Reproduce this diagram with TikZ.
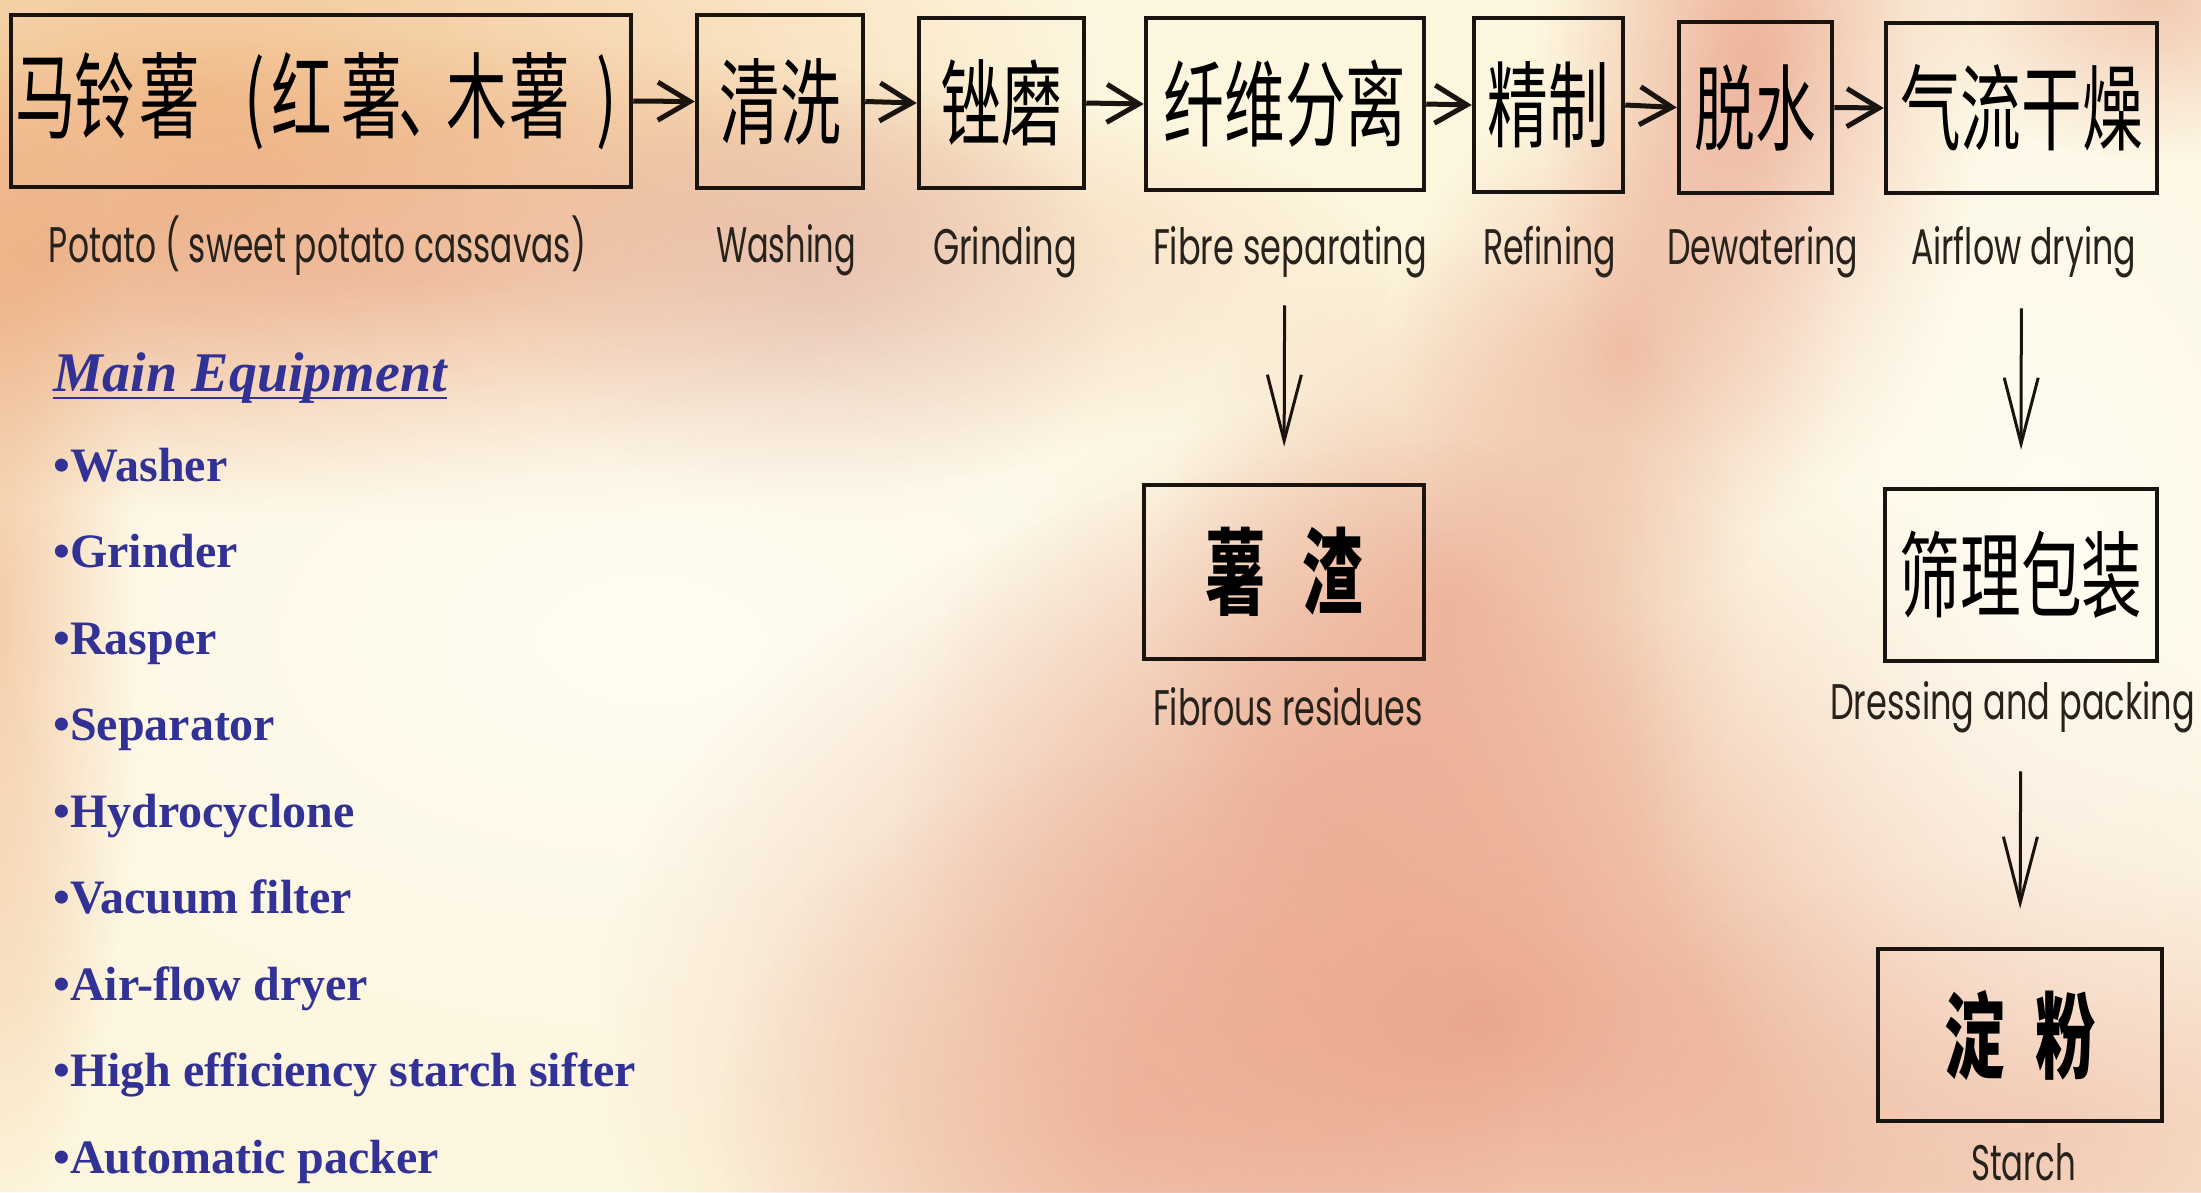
\documentclass[tikz,border=0pt]{standalone}
\usepackage{fontspec}
\setmainfont{Liberation Serif}
\newfontfamily\cjkf{Noto Sans CJK SC}
\newfontfamily\labf{Poppins}
\usetikzlibrary{arrows.meta,fadings}
\definecolor{bg}{RGB}{253,246,222}
\definecolor{peach}{RGB}{240,182,128}
\definecolor{orangeish}{RGB}{236,162,108}
\definecolor{redband}{RGB}{230,150,112}
\definecolor{mauve}{RGB}{212,160,150}
\definecolor{salmon}{RGB}{232,156,130}
\definecolor{whiteish}{RGB}{255,253,245}
\definecolor{ink}{RGB}{25,20,15}
\definecolor{labc}{RGB}{40,34,28}
\definecolor{eqblue}{RGB}{50,50,150}
\tikzfading[name=softblob, inner color=transparent!0, outer color=transparent!100]
\newcommand\blob[5]{\fill[#4, fill opacity=#5, path fading=softblob] (#1) ellipse (#2pt and #3pt);}
\newcommand\zh[2]{\scalebox{#1}[1]{\fontsize{94}{94}\selectfont\cjkf #2}}
\newcommand\zc[2]{\makebox[0pt][l]{\hspace*{#1pt}\makebox[0pt][c]{\zh{0.645}{#2}}}}
\newcommand\en[2]{\resizebox{#1pt}{\height}{\fontsize{50}{50}\selectfont\labf #2}}
\begin{document}
\begin{tikzpicture}[x=1pt,y=-1pt,
  box/.style={draw=ink, line width=4.5pt, inner sep=0pt, anchor=center},
  harrow/.style={draw=ink, line width=5pt, -{Straight Barb[length=32pt,width=38pt]}},
  varrow/.style={draw=ink, line width=3pt, -{Straight Barb[length=66pt,width=34pt]}},
  lbl/.style={inner sep=0pt, anchor=base, text=labc},
  equip/.style={inner sep=0pt, anchor=base west, text=eqblue, font=\fontsize{48}{48}\selectfont\bfseries},
]
\useasboundingbox (0,0) rectangle (2201,1192);
\fill[bg] (0,0) rectangle (2201,1192);
% background blobs (ellipse radii are twice the visible radius)
\blob{200,100}{900}{400}{peach}{0.85}
\blob{400,280}{1000}{240}{redband}{0.7}
\blob{820,300}{300}{220}{mauve}{0.5}
\blob{0,620}{140}{600}{orangeish}{0.65}
\blob{650,640}{900}{520}{whiteish}{0.85}
\blob{1760,80}{220}{440}{salmon}{0.8}
\blob{1620,350}{220}{260}{salmon}{0.55}
\blob{1450,600}{300}{360}{salmon}{0.55}
\blob{1300,800}{400}{400}{salmon}{0.45}
\blob{1480,1020}{880}{580}{salmon}{0.85}
\blob{1120,1120}{400}{360}{salmon}{0.45}
\blob{2050,1120}{500}{260}{salmon}{0.45}
\blob{2050,550}{440}{760}{whiteish}{0.85}
\blob{2150,0}{240}{160}{salmon}{0.5}
% top row boxes
\node[box, minimum width=620pt, minimum height=172pt] (b1) at (321,101) {\hbox to 620pt{\zc{34.5}{马}\zc{94}{铃}\zc{159}{薯}\zc{243.5}{(}\zc{291}{红}\zc{361}{薯}\zc{418}{、}\zc{466}{木}\zc{529}{薯}\zc{595.5}{)}\hfill}};
\node[box, minimum width=166pt, minimum height=173pt] (b2) at (780,101.5) {\zh{0.645}{清洗}};
\node[box, minimum width=165pt, minimum height=170pt] (b3) at (1001.5,103) {\zh{0.645}{锉磨}};
\node[box, minimum width=278pt, minimum height=172pt] (b4) at (1285,104) {\zh{0.645}{纤维分离}};
\node[box, minimum width=149pt, minimum height=174pt] (b5) at (1548.5,105) {\zh{0.645}{精制}};
\node[box, minimum width=153pt, minimum height=171pt] (b6) at (1755.5,107.5) {\zh{0.645}{脱水}};
\node[box, minimum width=271pt, minimum height=170pt] (b7) at (2021.5,108) {\zh{0.645}{气流干燥}};
% lower boxes
\node[box, minimum width=280pt, minimum height=174pt] (b8) at (1284,572) {\zh{0.645}{\bfseries 薯\hspace{56pt}渣}};
\node[box, minimum width=272pt, minimum height=172pt] (b9) at (2021,575) {\zh{0.645}{筛理包装}};
\node[box, minimum width=284pt, minimum height=172pt] (b10) at (2020,1035) {\zh{0.645}{\bfseries 淀\hspace{47pt}粉}};
% labels
\node[lbl] (l1) at (317.5,262) {\en{537}{Potato ( sweet potato cassavas)}};
\node[lbl] (l2) at (786,262) {\en{140}{Washing}};
\node[lbl] (l3) at (1005,264) {\en{144}{Grinding}};
\node[lbl] (l4) at (1290,264) {\en{274}{Fibre separating}};
\node[lbl] (l5) at (1549.5,264) {\en{133}{Refining}};
\node[lbl] (l6) at (1762.5,264) {\en{191}{Dewatering}};
\node[lbl] (l7) at (2023.5,264) {\en{225}{Airflow drying}};
\node[lbl] (l8) at (1288,725) {\en{270}{Fibrous residues}};
\node[lbl] (l9) at (2012.5,719) {\en{365}{Dressing and packing}};
\node[lbl] (l10) at (2023.5,1180) {\en{105}{Starch}};
% horizontal arrows
\draw[harrow] (b1.east) -- (b2.west);
\draw[harrow] (b2.east) -- (b3.west);
\draw[harrow] (b3.east) -- (b4.west);
\draw[harrow] (b4.east) -- (b5.west);
\draw[harrow] (b5.east) -- (b6.west);
\draw[harrow] (b6.east) -- (b7.west);
% vertical arrows
\draw[varrow, shorten <=113pt, shorten >=36pt] (b4.south) -- (b8.north);
\draw[varrow, shorten <=113pt, shorten >=37pt] (b7.south) -- (b9.north);
\draw[varrow, shorten <=108pt, shorten >=38pt] (b9.south) -- (b10.north);
% equipment list
\node[inner sep=0pt, anchor=base west, text=eqblue, font=\fontsize{56}{56}\selectfont\bfseries\itshape] (me) at (53,391) {Main Equipment};
\draw[eqblue, line width=2.5pt] ([yshift=-7pt]me.base west) -- ([yshift=-7pt]me.base east);
\foreach \t [count=\i] in {Washer,Grinder,Rasper,Separator,Hydrocyclone,Vacuum filter,Air-flow dryer,High efficiency starch sifter,Automatic packer}
  \node[equip] (it\i) at (53,{481+86.5*(\i-1)}) {•\t};
\end{tikzpicture}
\end{document}
